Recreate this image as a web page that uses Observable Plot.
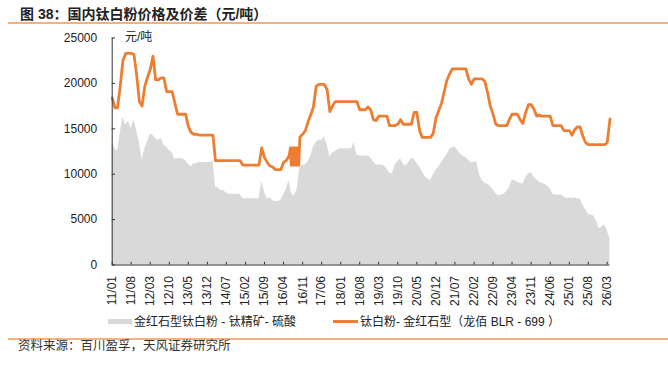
<!DOCTYPE html>
<html><head><meta charset="utf-8">
<script src="https://cdn.jsdelivr.net/npm/d3@7"></script>
<script src="https://cdn.jsdelivr.net/npm/@observablehq/plot@0.6"></script>
<style>
body{margin:0;background:#fff;}
#wrap{position:relative;width:668px;height:366px;overflow:hidden;font-family:"Liberation Sans",Arial,"Noto Sans CJK SC",sans-serif;color:#222;}
.abs{position:absolute;white-space:nowrap;}
</style></head><body><div id="wrap">
<div class="abs" style="left:20px;top:7.2px;font-size:14px;line-height:14px;font-weight:bold;color:#222;">图 38：国内钛白粉价格及价差（元/吨）</div>
<div class="abs" style="left:8px;top:22.3px;width:660px;height:2px;background:#f6b27c;"></div>
<div id="chart" class="abs" style="left:0;top:0;"></div>
<div class="abs" style="left:125px;top:30.7px;font-size:12px;line-height:12px;">元/吨</div>
<div class="abs" style="left:108px;top:319.3px;width:24px;height:5px;background:#d9d9d9;"></div>
<div class="abs" style="left:134px;top:315.7px;font-size:12px;line-height:12px;">金红石型钛白粉 - 钛精矿- 硫酸</div>
<div class="abs" style="left:333px;top:320.3px;width:25px;height:2.6px;background:#ed7d31;"></div>
<div class="abs" style="left:360px;top:315.7px;font-size:12px;line-height:12px;">钛白粉- 金红石型（龙佰 BLR - 699 ）</div>
<div class="abs" style="left:8px;top:337.5px;width:660px;height:2px;background:#f6b27c;"></div>
<div class="abs" style="left:18px;top:339.8px;font-size:12.5px;line-height:12.5px;color:#333;">资料来源：百川盈孚，天风证券研究所</div>
</div>
<script>
// Monthly values, Jan 2011 .. Apr 2026 (one row per year)
const startMonth = "2011-01";
const price = [
  18400,17300,17300,19700,22500,23300,23300,23300,23200,21000,18000,17500,
  19700,20700,21500,23000,20400,20400,20600,20600,19100,19100,19100,17900,
  16600,16600,16600,16600,15300,14600,14400,14400,14300,14300,14300,14300,
  14300,14300,11500,11500,11500,11500,11500,11500,11500,11500,11500,11500,
  11000,11000,11000,11000,11000,11000,11000,12900,11800,11300,10900,10800,
  10500,10500,10500,11300,11500,12000,12900,11000,12900,14100,14400,14800,
  15800,16600,17400,19700,19900,19900,19900,19300,16900,17500,18000,18000,
  18000,18000,18000,18000,18000,18000,18000,17100,17100,17100,17400,17100,
  16000,15900,16400,16400,16400,16400,15350,15350,15350,15500,16000,15500,
  15500,15500,15500,16800,16800,14800,14050,14050,14050,14050,14500,16200,
  17000,17800,19000,20300,21000,21600,21600,21600,21600,21600,21600,20500,
  19900,20500,20500,20500,20500,20200,19000,17500,16600,15500,15350,15350,
  15350,15350,16000,16600,16600,16600,16000,15600,16800,17650,17650,17200,
  16400,16500,16400,16400,16400,16400,15350,15350,15350,15350,14800,14800,
  14800,14300,14900,15200,15200,14200,13500,13250,13250,13250,13250,13250,
  13250,13250,13500,16100
];
const spread = [
  13500,12800,12500,14500,16300,15400,15800,15000,16000,14800,13500,11600,
  12800,13600,14400,14300,13900,13700,14000,13200,13000,12600,12400,11700,
  11700,11700,11700,11500,11150,10800,11150,11150,11300,11300,11300,11300,
  11300,11400,8600,8500,8200,8200,7900,7800,7800,7800,7800,7800,
  7300,7300,7300,7300,7300,7300,7300,9200,8000,7300,7400,7100,
  7000,7000,7100,7700,8300,9300,7800,7600,8400,10800,11000,11000,
  11400,12000,13000,13500,13700,13700,14100,13300,11900,12300,12500,12700,
  12800,12800,12800,12800,12800,13450,12100,12000,12000,12000,12000,11800,
  11400,11000,11000,11000,10900,10600,10100,10050,11000,11400,11700,11100,
  10900,11300,11700,11700,11200,10800,10300,9700,9500,9300,9900,10400,
  10800,11300,11700,12100,12700,12900,13000,12600,12200,12000,11800,11500,
  11300,11300,11400,10000,9300,9000,8900,8700,8300,7900,7600,7700,
  7800,8100,8500,9300,9300,9100,9000,8900,9600,10000,10200,9700,
  9400,9100,9000,8900,8700,8400,7800,7700,7700,7700,7500,7300,
  7400,7300,7400,7300,7300,6600,6100,5600,5500,5400,4800,4000,
  4200,4400,3800,2800
];
// Rapid weekly swings of the price in mid-2016
const swingDates = ["2016-06-18","2016-06-25","2016-07-05","2016-07-12","2016-07-19","2016-07-26","2016-08-05","2016-08-12","2016-08-19","2016-08-26","2016-09-05","2016-09-12","2016-09-18"];
const swingPrice = [12900,11000,11000,12900,11000,12900,12900,11000,12900,11000,11000,12900,11000];
const xTickLabels = ["11/01","11/08","12/03","12/10","13/05","13/12","14/07","15/02","15/09","16/04","16/11","17/06","18/01","18/08","19/03","19/10","20/05","20/12","21/07","22/02","22/09","23/04","23/11","24/06","25/01","25/08","26/03"];
const yTicks = [0,5000,10000,15000,20000,25000];

const x0 = d3.utcParse("%Y-%m")(startMonth);
const dates = price.map((_, i) => d3.utcMonth.offset(x0, i));
const xEnd = dates[dates.length - 1];
const parseDay = d3.utcParse("%Y-%m-%d");
const priceRows = dates.map((d, i) => ({date: d, v: price[i]}))
  .concat(swingDates.map((s, i) => ({date: parseDay(s), v: swingPrice[i]})))
  .sort((a, b) => a.date - b.date);
const spreadRows = dates.map((d, i) => ({date: d, v: spread[i]}));
const xTicks = xTickLabels.map(s => d3.utcParse("%y/%m")(s));
const yTickEnd = d3.utcDay.offset(x0, 37);
const axisColor = "#333";

const chart = Plot.plot({
  width: 668, height: 312,
  marginLeft: 111.7, marginRight: 58.5, marginTop: 37.5, marginBottom: 47.5,
  style: {fontFamily: "'Liberation Sans', Arial, 'Noto Sans CJK SC', sans-serif", fontSize: "12px", color: "#222", background: "transparent", overflow: "visible"},
  x: {type: "utc", domain: [x0, xEnd]},
  y: {domain: [0, 25000]},
  marks: [
    Plot.areaY(spreadRows, {x: "date", y: "v", fill: "#d9d9d9"}),
    Plot.lineY(priceRows, {x: "date", y: "v", stroke: "#ed7d31", strokeWidth: 2.8}),
    Plot.ruleY([0], {stroke: axisColor}),
    Plot.ruleX([x0], {y1: 0, y2: 25000, stroke: axisColor}),
    Plot.ruleX(xTicks, {x: d => d, y1: 0, y2: 300, stroke: axisColor}),
    Plot.ruleY(yTicks, {y: d => d, x1: x0, x2: yTickEnd, stroke: axisColor}),
    Plot.axisX(xTicks, {tickFormat: d3.utcFormat("%y/%m"), tickRotate: -90, tickSize: 0, tickPadding: 11, fontSize: 12, label: null}),
    Plot.axisY(yTicks, {tickFormat: d3.format("d"), tickSize: 0, tickPadding: 15, fontSize: 12, label: null})
  ]
});
document.getElementById("chart").appendChild(chart);
</script>
</body></html>
